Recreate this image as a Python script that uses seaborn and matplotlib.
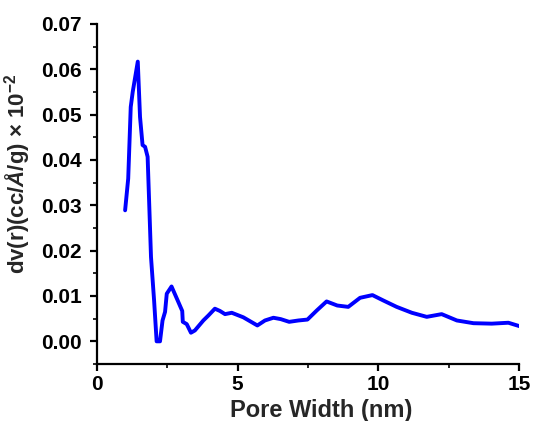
import matplotlib
matplotlib.use("Agg")
import matplotlib.pyplot as plt
import seaborn as sns
import pandas as pd
from matplotlib.ticker import MultipleLocator

pore_width = [1.00, 1.11, 1.20, 1.27, 1.45, 1.53, 1.62, 1.71, 1.80, 1.92, 2.03, 2.12, 2.24,
              2.33, 2.42, 2.48, 2.65, 2.89, 3.03, 3.05, 3.19, 3.34, 3.48, 3.78, 3.96, 4.19,
              4.37, 4.55, 4.79, 5.20, 5.70, 5.97, 6.27, 6.53, 6.83, 7.16, 7.48, 7.81, 8.16,
              8.54, 8.93, 9.35, 9.79, 10.18, 10.65, 11.19, 11.72, 12.25, 12.79, 13.38,
              14.03, 14.62, 15.04]
dv = [0.0289, 0.0359, 0.0517, 0.0550, 0.0617, 0.0495, 0.0433, 0.0429, 0.0407, 0.0186, 0.0090,
      0.0000, 0.0000, 0.0046, 0.0065, 0.0105, 0.0121, 0.0087, 0.0067, 0.0043, 0.0038, 0.0019,
      0.0024, 0.0046, 0.0057, 0.0072, 0.0067, 0.0060, 0.0063, 0.0053, 0.0035, 0.0046, 0.0052,
      0.0049, 0.0043, 0.0046, 0.0048, 0.0068, 0.0088, 0.0079, 0.0076, 0.0096, 0.0102, 0.0090,
      0.0076, 0.0063, 0.0054, 0.0060, 0.0046, 0.0040, 0.0039, 0.0041, 0.0033]

df = pd.DataFrame({"Pore Width (nm)": pore_width, "dv": dv})

sns.set_style("ticks")
plt.rcParams['font.family'] = ['Liberation Sans', 'DejaVu Sans']
plt.rcParams['font.weight'] = 'bold'
plt.rcParams['mathtext.fontset'] = 'custom'
plt.rcParams['mathtext.rm'] = 'Liberation Sans:bold'
plt.rcParams['mathtext.bf'] = 'Liberation Sans:bold'
plt.rcParams['mathtext.it'] = 'Liberation Sans:italic'

fig = plt.figure(figsize=(5.34, 4.21), dpi=100)
ax = fig.add_axes([0.1816, 0.1354, 0.972 - 0.1816, 0.943 - 0.1354])

sns.lineplot(data=df, x="Pore Width (nm)", y="dv", ax=ax, color="#0000ff",
             linewidth=2.8, estimator=None, sort=False)

ax.set_xlim(0, 15)
ax.set_ylim(-0.005, 0.07)
ax.xaxis.set_major_locator(MultipleLocator(5))
ax.xaxis.set_minor_locator(MultipleLocator(2.5))
ax.yaxis.set_major_locator(MultipleLocator(0.01))
ax.yaxis.set_minor_locator(MultipleLocator(0.005))
ax.yaxis.set_major_formatter(matplotlib.ticker.FormatStrFormatter('%.2f'))

for s in ['top', 'right']:
    ax.spines[s].set_visible(False)
for s in ['left', 'bottom']:
    ax.spines[s].set_linewidth(1.6)
    ax.spines[s].set_color('black')

ax.tick_params(axis='both', which='major', length=5, width=1.6, labelsize=15,
               colors='black', direction='out')
ax.tick_params(axis='y', which='major', pad=6)
ax.tick_params(axis='x', which='major', pad=3)
ax.tick_params(axis='both', which='minor', length=3, width=1.4, direction='out')
for lab in ax.get_xticklabels() + ax.get_yticklabels():
    lab.set_fontweight('bold')

ax.set_xlabel("Pore Width (nm)", fontsize=17, fontweight='bold')
ax.set_ylabel(r"dv(r)(cc/$\mathit{Å}$/g) × 10$^{-2}$", fontsize=16, fontweight='bold')
ax.xaxis.set_label_coords(0.531, -0.103)
ax.yaxis.set_label_coords(-0.152, 0.559)

fig.savefig("out.png", dpi=100)
